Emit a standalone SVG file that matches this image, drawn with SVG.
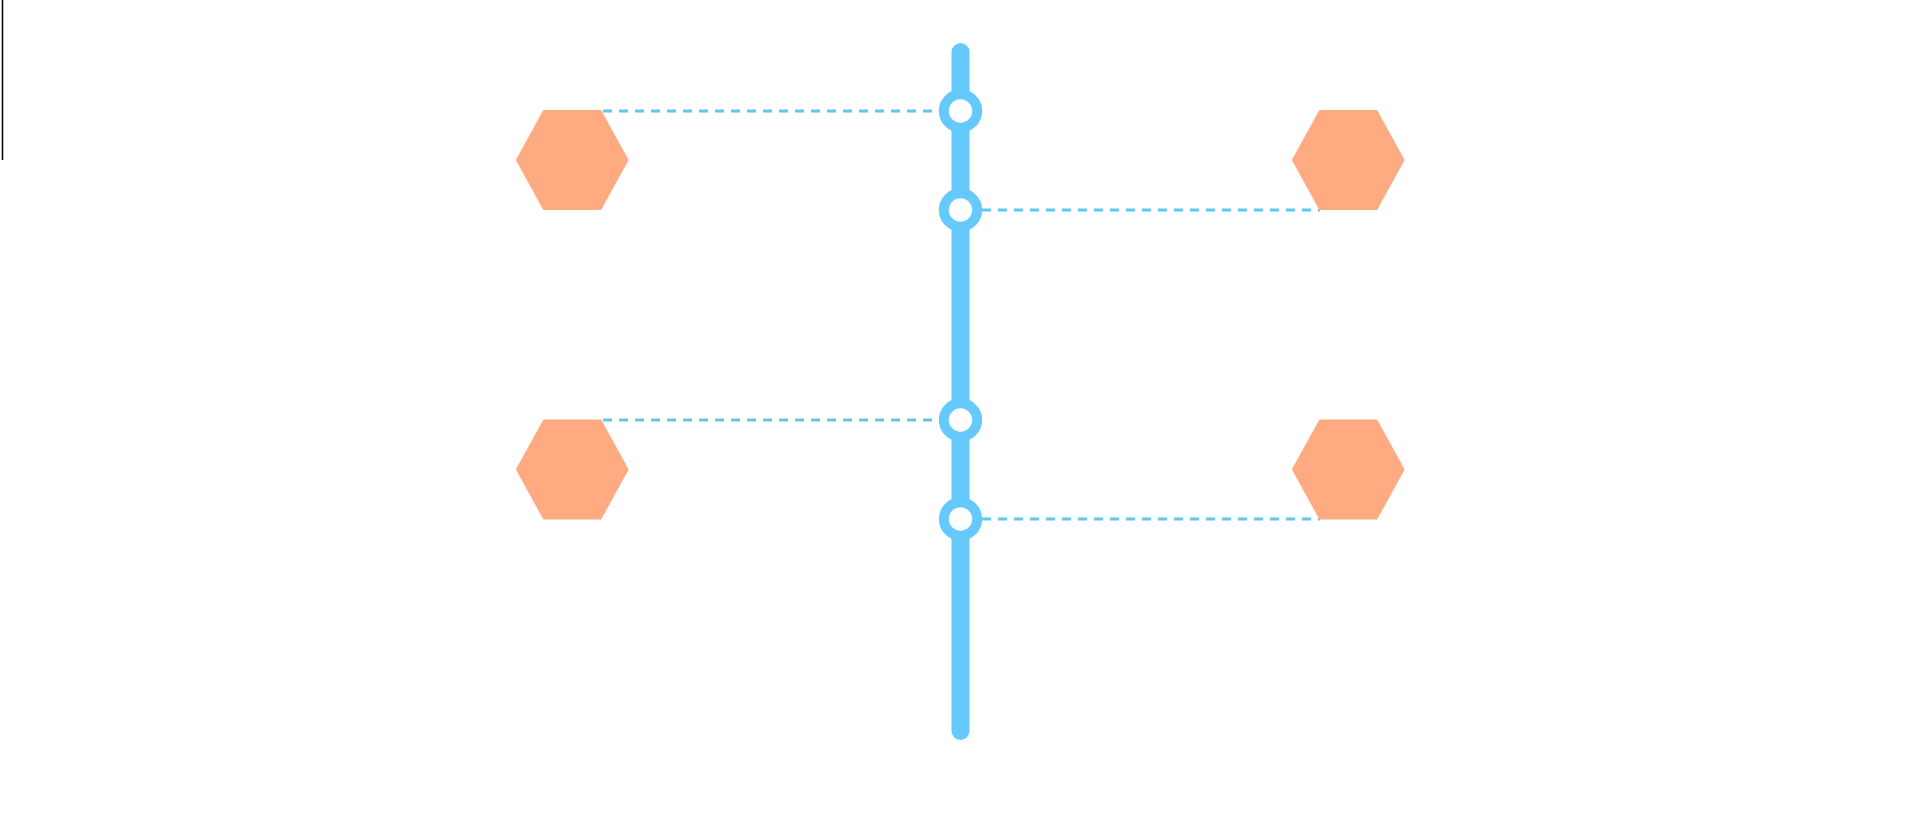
<svg xmlns="http://www.w3.org/2000/svg" width="1919" height="835" viewBox="0 0 1919 835">
<style>
.hex{fill:#ffaa80;stroke:#ffaa80;stroke-width:2;stroke-linejoin:round}
.dash{stroke:#5fc8f0;stroke-width:3;stroke-dasharray:9 7;fill:none}
.ring{fill:#ffffff;stroke:#66c9fb;stroke-width:10}
</style>
<rect width="1919" height="835" fill="#ffffff"/>
<line x1="2.5" y1="0" x2="2.5" y2="160" stroke="#000000" stroke-width="1.5"/>
<g id="connectors">
<line class="dash" x1="603" y1="111" x2="938" y2="111"/>
<line class="dash" x1="982" y1="210" x2="1320" y2="210"/>
<line class="dash" x1="603" y1="420" x2="938" y2="420"/>
<line class="dash" x1="982" y1="519" x2="1320" y2="519"/>
</g>
<g id="spine">
<line x1="960.5" y1="52" x2="960.5" y2="731" stroke="#66c9fb" stroke-width="18" stroke-linecap="round"/>
</g>
<g id="hex-tl"><polygon class="hex" points="517,160 544,111 600.5,111 627.5,160 600.5,209 544,209"/></g>
<g id="hex-tr"><polygon class="hex" points="1293,160 1320,111 1376.5,111 1403.5,160 1376.5,209 1320,209"/></g>
<g id="hex-bl"><polygon class="hex" points="517,469.5 544,420.5 600.5,420.5 627.5,469.5 600.5,518.5 544,518.5"/></g>
<g id="hex-br"><polygon class="hex" points="1293,469.5 1320,420.5 1376.5,420.5 1403.5,469.5 1376.5,518.5 1320,518.5"/></g>
<g id="node1"><circle class="ring" cx="960.5" cy="111" r="16.7"/></g>
<g id="node2"><circle class="ring" cx="960.5" cy="210" r="16.7"/></g>
<g id="node3"><circle class="ring" cx="960.5" cy="420" r="16.7"/></g>
<g id="node4"><circle class="ring" cx="960.5" cy="519" r="16.7"/></g>
</svg>
